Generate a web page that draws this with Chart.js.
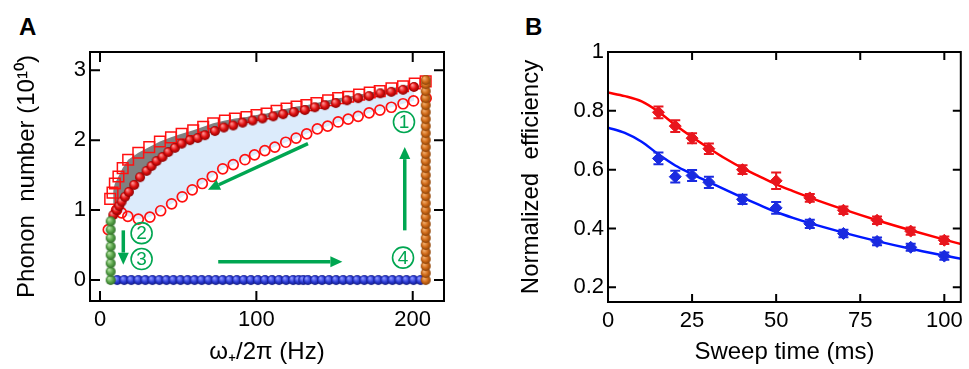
<!DOCTYPE html>
<html>
<head>
<meta charset="utf-8">
<script src="https://cdn.jsdelivr.net/npm/chart.js@4.4.0/dist/chart.umd.min.js"></script>
<style>
  body { margin: 0; background: #fff; }
  #wrapA { position: absolute; left: 0; top: 0; }
  #wrapB { position: absolute; left: 480px; top: 0; }
  .panel { position: absolute; font: bold 24px "Liberation Sans", Arial, sans-serif; }
</style>
</head>
<body>
<div class="panel" style="left:19px;top:13px">A</div>
<div class="panel" style="left:525px;top:13px">B</div>
<div id="wrapA"><canvas id="chartA" width="480" height="369"></canvas></div>
<div id="wrapB"><canvas id="chartB" width="489" height="369"></canvas></div>
<script>
// ---- panel A data (frequency in Hz, phonon number in 1e10) ----
const sphereX = [8.5, 10.6, 12.3, 13.8, 16.0, 18.5, 21.9, 25.6, 29.8, 33.0, 36.2, 40.0, 43.7, 47.9, 52.2, 57.5, 62.5, 67.1, 73.5, 79.2, 85.2, 91.2, 97.6, 103.9, 110.8, 117.1, 124.0, 131.0, 137.4, 143.8, 150.8, 158.0, 165.1, 172.1, 179.3, 186.3, 193.8, 200.8];
const sphereY = [0.93, 1.00, 1.06, 1.12, 1.19, 1.26, 1.36, 1.47, 1.56, 1.63, 1.70, 1.76, 1.83, 1.89, 1.95, 2.00, 2.03, 2.07, 2.13, 2.18, 2.21, 2.25, 2.28, 2.31, 2.34, 2.37, 2.40, 2.43, 2.47, 2.50, 2.53, 2.57, 2.60, 2.63, 2.67, 2.69, 2.72, 2.76];

const squareX = [6.5, 8.0, 9.5, 11.8, 14.5, 18.0, 24.5, 31.5, 38.3, 45.4, 52.2, 59.6, 66.0, 72.4, 79.9, 86.3, 93.7, 100.1, 106.5, 112.9, 119.3, 125.7, 132.0, 138.4, 145.9, 152.3, 158.7, 165.7, 172.5, 178.9, 186.4, 193.8, 201.3, 208.3];
const squareY = [1.16, 1.25, 1.38, 1.48, 1.60, 1.72, 1.82, 1.90, 1.98, 2.04, 2.09, 2.14, 2.19, 2.24, 2.28, 2.31, 2.33, 2.36, 2.38, 2.42, 2.45, 2.48, 2.50, 2.53, 2.57, 2.60, 2.62, 2.65, 2.68, 2.70, 2.74, 2.77, 2.81, 2.84];

const circleX = [5.3, 10.6, 13.8, 17.8, 24.5, 31.9, 38.8, 45.8, 52.6, 59.0, 65.4, 71.8, 78.5, 85.2, 92.7, 98.8, 105.4, 111.8, 118.8, 125.4, 132.2, 139.0, 145.6, 152.3, 158.7, 165.1, 172.1, 179.0, 186.3, 193.8, 200.5, 208.6];
const circleY = [0.72, 1.00, 0.96, 0.91, 0.87, 0.90, 0.99, 1.09, 1.19, 1.29, 1.38, 1.48, 1.59, 1.65, 1.72, 1.79, 1.85, 1.90, 1.97, 2.03, 2.09, 2.16, 2.20, 2.26, 2.30, 2.34, 2.39, 2.43, 2.47, 2.52, 2.56, 2.60];

const greenPos = 6.8;
const greenY = [0, 0.12, 0.24, 0.36, 0.48, 0.60, 0.72, 0.84];

const bluePos = 0;
const blueX = [11, 15.5, 20, 24.5, 29, 33.5, 38, 42.5, 47, 51.5, 56, 60.5, 65, 69.5, 74, 78.5, 83, 87.5, 92, 96.5, 101, 105.5, 110, 114.5, 119, 123.5, 127, 130, 133, 137.5, 142, 146.5, 151, 155.5, 160, 164.5, 169, 173.5, 178, 182.5, 187, 191.5, 196, 200.5, 205];

const orangePos = 208.3;
const orangeY = [0, 0.1, 0.2, 0.3, 0.4, 0.5, 0.6, 0.7, 0.8, 0.9, 1.0, 1.1, 1.2, 1.3, 1.4, 1.5, 1.6, 1.7, 1.8, 1.9, 2.0, 2.1, 2.2, 2.3, 2.4, 2.5, 2.6, 2.7, 2.8, 2.86];

const xTicksA = [0, 100, 200];
const yTicksA = [0, 1, 2, 3];

// arrows [x0, y0, x1, y1] and step labels [text, x, y]
const arrowsA = [[133, 1.95, 69, 1.29], [14.9, 0.71, 14.9, 0.22], [75.6, 0.26, 155, 0.26], [194.9, 0.71, 194.9, 1.90]];
const stepsA = [['1', 194.4, 2.26], ['2', 26.6, 0.67], ['3', 26.6, 0.30], ['4', 193.8, 0.32]];

// ---- panel B data ----
const sweepTimes = [15, 20, 25, 30, 40, 50, 60, 70, 80, 90, 100];
const redEff = [0.795, 0.748, 0.707, 0.671, 0.600, 0.562, 0.504, 0.462, 0.428, 0.391, 0.360];
const redErr = [0.020, 0.020, 0.017, 0.018, 0.015, 0.028, 0.013, 0.013, 0.013, 0.012, 0.013];
const blueEff = [0.638, 0.576, 0.580, 0.557, 0.499, 0.470, 0.416, 0.383, 0.356, 0.336, 0.306];
const blueErr = [0.020, 0.020, 0.019, 0.019, 0.016, 0.020, 0.014, 0.013, 0.013, 0.012, 0.012];

const fitX = [0, 5, 10, 15, 20, 25, 30, 35, 40, 45, 50, 55, 60, 70, 80, 90, 100, 105];
const redFit = [0.862, 0.850, 0.832, 0.797, 0.752, 0.711, 0.673, 0.637, 0.605, 0.577, 0.550, 0.527, 0.505, 0.465, 0.428, 0.394, 0.362, 0.347];
const blueFit = [0.743, 0.725, 0.695, 0.652, 0.614, 0.585, 0.558, 0.531, 0.505, 0.480, 0.456, 0.436, 0.418, 0.386, 0.357, 0.331, 0.308, 0.297];

const xTicksB = [0, 25, 50, 75, 100];
const yTicksB = [0.2, 0.4, 0.6, 0.8, 1];
const yLabelsB = ['0.2', '0.4', '0.6', '0.8', '1'];

const FONT = '"Liberation Sans", Arial, sans-serif';
const GREEN = '#00a651';

function pts(xs, ys) {
  return xs.map((x, i) => ({ x: x, y: ys[i] }));
}

// shaded ball used as point style
function ball(r, light, base, dark) {
  const c = document.createElement('canvas');
  c.width = c.height = 2 * r + 2;
  const g = c.getContext('2d');
  const m = r + 1;
  const grad = g.createRadialGradient(m - r * 0.35, m - r * 0.4, r * 0.1, m, m, r);
  grad.addColorStop(0, light);
  grad.addColorStop(0.55, base);
  grad.addColorStop(1, dark);
  g.fillStyle = grad;
  g.beginPath();
  g.arc(m, m, r, 0, Math.PI * 2);
  g.fill();
  return c;
}

// frame with inward ticks on all four sides
function frameTicks(len) {
  return {
    id: 'frameTicks',
    afterDraw(chart) {
      const { ctx, chartArea: a, scales } = chart;
      ctx.save();
      ctx.strokeStyle = '#000';
      ctx.lineWidth = 2;
      ctx.strokeRect(a.left, a.top, a.right - a.left, a.bottom - a.top);
      ctx.beginPath();
      scales.x.ticks.forEach(t => {
        const px = scales.x.getPixelForValue(t.value);
        ctx.moveTo(px, a.bottom); ctx.lineTo(px, a.bottom - len);
        ctx.moveTo(px, a.top); ctx.lineTo(px, a.top + len);
      });
      scales.y.ticks.forEach(t => {
        const py = scales.y.getPixelForValue(t.value);
        ctx.moveTo(a.left, py); ctx.lineTo(a.left + len, py);
        ctx.moveTo(a.right, py); ctx.lineTo(a.right - len, py);
      });
      ctx.stroke();
      ctx.restore();
    }
  };
}

const annotateA = {
  id: 'annotateA',
  afterDatasetsDraw(chart) {
    const { ctx, scales: { x, y } } = chart;
    ctx.save();
    ctx.strokeStyle = GREEN;
    ctx.fillStyle = GREEN;
    arrowsA.forEach(([x0, y0, x1, y1]) => {
      const ax = x.getPixelForValue(x0), ay = y.getPixelForValue(y0);
      const bx = x.getPixelForValue(x1), by = y.getPixelForValue(y1);
      const ang = Math.atan2(by - ay, bx - ax);
      const hl = 12, hw = 5.5;
      const ex = bx - hl * Math.cos(ang), ey = by - hl * Math.sin(ang);
      ctx.lineWidth = 3.5;
      ctx.beginPath();
      ctx.moveTo(ax, ay);
      ctx.lineTo(ex, ey);
      ctx.stroke();
      ctx.beginPath();
      ctx.moveTo(bx, by);
      ctx.lineTo(ex + hw * Math.sin(ang), ey - hw * Math.cos(ang));
      ctx.lineTo(ex - hw * Math.sin(ang), ey + hw * Math.cos(ang));
      ctx.closePath();
      ctx.fill();
    });
    ctx.lineWidth = 1.6;
    ctx.font = '19px ' + FONT;
    ctx.textAlign = 'center';
    ctx.textBaseline = 'middle';
    stepsA.forEach(([s, sx, sy]) => {
      const px = x.getPixelForValue(sx), py = y.getPixelForValue(sy);
      ctx.beginPath();
      ctx.arc(px, py, 10.5, 0, Math.PI * 2);
      ctx.stroke();
      ctx.fillText(s, px, py + 1);
    });
    ctx.restore();
  }
};

const errorBarsB = {
  id: 'errorBarsB',
  afterDatasetsDraw(chart) {
    const { ctx, scales: { x, y } } = chart;
    ctx.save();
    ctx.lineWidth = 2;
    [[redEff, redErr, '#e8161e'], [blueEff, blueErr, '#1a2be0']].forEach(([vals, errs, col]) => {
      ctx.strokeStyle = col;
      ctx.beginPath();
      sweepTimes.forEach((t, i) => {
        const px = x.getPixelForValue(t);
        const top = y.getPixelForValue(vals[i] + errs[i]);
        const bot = y.getPixelForValue(vals[i] - errs[i]);
        ctx.moveTo(px, top); ctx.lineTo(px, bot);
        ctx.moveTo(px - 5, top); ctx.lineTo(px + 5, top);
        ctx.moveTo(px - 5, bot); ctx.lineTo(px + 5, bot);
      });
      ctx.stroke();
    });
    ctx.restore();
  }
};

const tickFont = { family: FONT, size: 22 };
const titleFont = { family: FONT, size: 24 };

const redBall = ball(5, '#ff9090', '#e01010', '#8a0000');
const greenBall = ball(5, '#b5e0a5', '#5aa54a', '#2e6e28');
const blueBall = ball(5, '#8c97ff', '#2b3bd6', '#121a80');
const orangeBall = ball(5, '#f3b070', '#d06a18', '#8a4208');

const lineless = { showLine: true, pointRadius: 0, borderColor: 'rgba(0,0,0,0)', borderWidth: 1, tension: 0 };

new Chart(document.getElementById('chartA'), {
  type: 'scatter',
  data: {
    datasets: [
      { data: orangeY.map(v => ({ x: orangePos, y: v })), pointStyle: orangeBall },
      { data: greenY.map(v => ({ x: greenPos, y: v })), pointStyle: greenBall },
      { data: blueX.map(v => ({ x: v, y: bluePos })), pointStyle: blueBall },
      { data: pts(sphereX, sphereY), pointStyle: redBall },
      { data: pts(circleX, circleY), pointStyle: 'circle', pointRadius: 5, borderColor: '#ff1010', borderWidth: 1.7, backgroundColor: 'rgba(255,255,255,0)' },
      { data: pts(squareX, squareY), pointStyle: 'rect', pointRadius: 7.5, borderColor: '#ff1010', borderWidth: 1.5, backgroundColor: 'rgba(255,255,255,0)' },
      Object.assign({ data: pts(squareX, squareY), fill: { target: 7 }, backgroundColor: '#808080' }, lineless),
      Object.assign({ data: pts(sphereX, sphereY), fill: { target: 8 }, backgroundColor: '#dcebfb' }, lineless),
      Object.assign({ data: pts(circleX, circleY), fill: false }, lineless)
    ]
  },
  options: {
    responsive: false,
    animation: false,
    layout: { padding: { top: 52, right: 36, left: 0, bottom: 0 } },
    plugins: {
      legend: { display: false },
      tooltip: { enabled: false },
      filler: { drawTime: 'beforeDatasetsDraw' }
    },
    scales: {
      x: {
        type: 'linear', min: -6.4, max: 220,
        afterBuildTicks: s => { s.ticks = xTicksA.map(v => ({ value: v })); },
        afterFit: s => { s.height = 68; },
        grid: { display: false, drawTicks: false },
        border: { display: false },
        ticks: { font: tickFont, color: '#000', padding: 6, maxRotation: 0 },
        title: { display: true, text: 'ω₊/2π (Hz)', font: titleFont, color: '#000', padding: { top: 0, bottom: 2 } }
      },
      y: {
        type: 'linear', min: -0.3, max: 3.26,
        afterBuildTicks: s => { s.ticks = yTicksA.map(v => ({ value: v })); },
        afterFit: s => { s.width = 90; },
        grid: { display: false, drawTicks: false },
        border: { display: false },
        ticks: { font: tickFont, color: '#000', padding: 4 },
        title: { display: true, text: 'Phonon  number (10¹⁰)', font: titleFont, color: '#000', padding: { top: 13, bottom: 0 } }
      }
    }
  },
  plugins: [frameTicks(10), annotateA]
});

new Chart(document.getElementById('chartB'), {
  type: 'scatter',
  data: {
    datasets: [
      { data: pts(sweepTimes, redEff), pointStyle: 'rectRot', pointRadius: 6, backgroundColor: '#e8161e', borderColor: '#e8161e', borderWidth: 1 },
      { data: pts(sweepTimes, blueEff), pointStyle: 'rectRot', pointRadius: 6, backgroundColor: '#1a2be0', borderColor: '#1a2be0', borderWidth: 1 },
      { data: pts(fitX, redFit), showLine: true, pointRadius: 0, borderColor: '#ff0000', borderWidth: 2.5, cubicInterpolationMode: 'monotone' },
      { data: pts(fitX, blueFit), showLine: true, pointRadius: 0, borderColor: '#0018ff', borderWidth: 2.5, cubicInterpolationMode: 'monotone' }
    ]
  },
  options: {
    responsive: false,
    animation: false,
    layout: { padding: { top: 52, right: 5, left: 0, bottom: 0 } },
    plugins: { legend: { display: false }, tooltip: { enabled: false } },
    scales: {
      x: {
        type: 'linear', min: 0, max: 104.9,
        afterBuildTicks: s => { s.ticks = xTicksB.map(v => ({ value: v })); },
        afterFit: s => { s.height = 67; },
        grid: { display: false, drawTicks: false },
        border: { display: false },
        ticks: { font: tickFont, color: '#000', padding: 6, maxRotation: 0 },
        title: { display: true, text: 'Sweep time (ms)', font: titleFont, color: '#000', padding: { top: 0, bottom: 2 } }
      },
      y: {
        type: 'linear', min: 0.15, max: 1,
        afterBuildTicks: s => { s.ticks = yTicksB.map(v => ({ value: v })); },
        afterFit: s => { s.width = 128; },
        grid: { display: false, drawTicks: false },
        border: { display: false },
        ticks: { font: tickFont, color: '#000', padding: 4, callback: (v, i) => yLabelsB[i] },
        title: { display: true, text: 'Normalized  efficiency', font: titleFont, color: '#000', padding: { top: 37, bottom: 0 } }
      }
    }
  },
  plugins: [frameTicks(8), errorBarsB]
});
</script>
</body>
</html>
